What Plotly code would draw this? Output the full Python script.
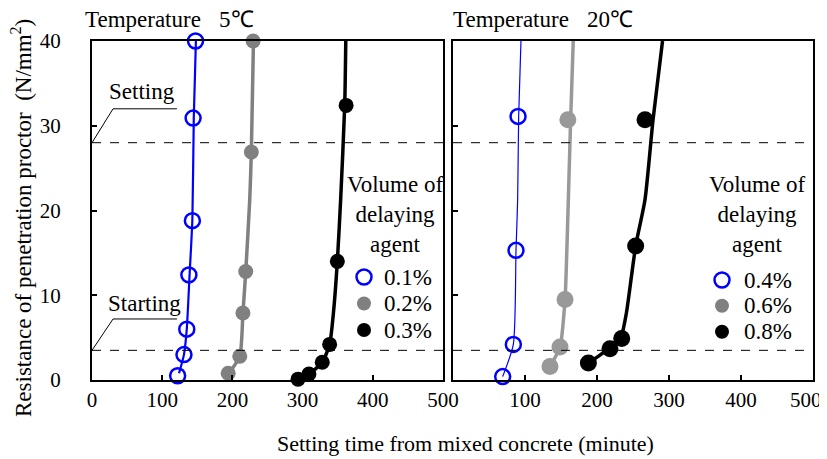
import plotly.graph_objects as go

# ---------------- data ----------------
# 5 degC panel (setting time in minutes, resistance N/mm2)
t5_a_x = [122, 131, 135, 138, 143, 144, 147.5]
t5_a_y = [0.5, 3.0, 6.0, 12.4, 18.8, 30.9, 40.0]
t5_b_x = [194, 210.5, 215, 219, 227, 229.5]
t5_b_y = [0.8, 2.8, 7.9, 12.8, 26.9, 40.0]
t5_c_x = [293.5, 309, 328, 338.5, 349.5, 362]
t5_c_y = [0.1, 0.7, 2.1, 4.2, 14.0, 32.4]

# fitted curves
f5_a_x = [124, 131, 135, 139, 143, 145, 148]
f5_a_y = [0.8, 3.0, 6.0, 12.4, 19.0, 31.0, 40.0]
f5_b_x = [195, 210.5, 215, 219, 224.7, 227, 230]
f5_b_y = [0.8, 2.8, 7.9, 12.8, 21.3, 26.9, 40.0]
f5_c_x = [293.5, 309, 328, 338.5, 344, 349.5, 354.2, 360, 361.5]
f5_c_y = [0.1, 0.7, 2.1, 4.2, 8.0, 14.0, 21.3, 32.4, 40.0]

# 20 degC panel
t20_a_x = [69, 83.8, 87.5, 90.3]
t20_a_y = [0.4, 4.2, 15.3, 31.1]
t20_b_x = [134.7, 148.6, 155.6, 159.5]
t20_b_y = [1.6, 3.9, 9.5, 30.7]
t20_c_x = [188, 218, 234.3, 253.7, 266.7]
t20_c_y = [2.0, 3.7, 4.9, 15.8, 30.7]

f20_a_x = [69, 83.8, 87.5, 89.8, 91.2, 94.4]
f20_a_y = [0.4, 4.2, 15.3, 21.3, 31.1, 40.0]
f20_b_x = [134.7, 148.6, 155.6, 158, 160.2, 163.4, 167]
f20_b_y = [1.6, 3.9, 9.5, 15.0, 21.3, 30.7, 40.0]
f20_c_x = [188, 205, 220, 234, 241, 253.7, 266.7, 277.8, 291]
f20_c_y = [2.0, 3.0, 4.0, 5.3, 8.0, 15.8, 21.3, 30.7, 40.0]

labels5 = ["0.1%", "0.2%", "0.3%"]
labels20 = ["0.4%", "0.6%", "0.8%"]
temps = ["5℃", "20℃"]
setting_level = 28
starting_level = 3.5
x_ticks = [0, 100, 200, 300, 400, 500]
y_ticks = [0, 10, 20, 30, 40]

FONT = "Liberation Serif, Times New Roman, serif"
BLUE = "#0000FF"
GRAY1 = "#808080"
GRAY2 = "#999999"
BLACK = "#000000"

fig = go.Figure()

def fit(x, y, xa, ya, color, w):
    fig.add_trace(go.Scatter(x=x, y=y, mode="lines", xaxis=xa, yaxis=ya,
                             line=dict(color=color, width=w, shape="spline", smoothing=0.6),
                             showlegend=False, hoverinfo="skip"))

def pts(x, y, xa, ya, name, open_, color, size):
    if open_:
        marker = dict(symbol="circle-open", size=size, color=color, line=dict(width=2.5, color=color))
    else:
        marker = dict(symbol="circle", size=size, color=color, line=dict(width=0))
    fig.add_trace(go.Scatter(x=x, y=y, mode="markers", xaxis=xa, yaxis=ya, name=name,
                             marker=marker, showlegend=False, cliponaxis=False))

fit(f5_a_x, f5_a_y, "x", "y", BLUE, 2.2)
fit(f5_b_x, f5_b_y, "x", "y", GRAY1, 3.5)
fit(f5_c_x, f5_c_y, "x", "y", BLACK, 3.5)
pts(t5_a_x, t5_a_y, "x", "y", labels5[0], True, BLUE, 15)
pts(t5_b_x, t5_b_y, "x", "y", labels5[1], False, GRAY1, 15)
pts(t5_c_x, t5_c_y, "x", "y", labels5[2], False, BLACK, 15)

fit(f20_a_x, f20_a_y, "x2", "y2", BLUE, 1.2)
fit(f20_b_x, f20_b_y, "x2", "y2", GRAY2, 3.5)
fit(f20_c_x, f20_c_y, "x2", "y2", BLACK, 3.5)
pts(t20_a_x, t20_a_y, "x2", "y2", labels20[0], True, BLUE, 15)
pts(t20_b_x, t20_b_y, "x2", "y2", labels20[1], False, GRAY2, 17)
pts(t20_c_x, t20_c_y, "x2", "y2", labels20[2], False, BLACK, 17)

# the page body has an 8px default margin, so the figure is offset by (8, 8)
OFF = 8
W, H = 827 - OFF, 459 - OFF
PL, PR, PT, PB = 92, 813, 41, 380          # plot area in screen pixels
PW, PH = PR - PL, PB - PT
ML, MT = PL - OFF, PT - OFF
MR, MB = W - ML - PW, H - MT - PH
def px(x): return (x - PL) / PW
def py(y): return (PB - y) / PH

TICK_FS = 21
axis_common = dict(range=[0, 500], tickvals=x_ticks, ticks="inside", ticklen=5, tickwidth=1.5,
                   tickcolor="black", showline=True, linecolor="black", linewidth=2, mirror=True,
                   showgrid=False, zeroline=False, tickfont=dict(family=FONT, size=TICK_FS, color="black"),
                   ticklabelstandoff=0, automargin=False, ticklabeloverflow="allow")
yaxis_common = dict(range=[0, 40], tickvals=y_ticks, ticks="inside", ticklen=5, tickwidth=1.5,
                    tickcolor="black", showline=True, linecolor="black", linewidth=2, mirror=True,
                    showgrid=False, zeroline=False, tickfont=dict(family=FONT, size=TICK_FS, color="black"),
                    automargin=False)

# right panel: last label (at the page edge) is drawn as an annotation so it is not clipped
fig.update_layout(
    width=W, height=H,
    margin=dict(l=ML, r=MR, t=MT, b=MB, autoexpand=False),
    paper_bgcolor="white", plot_bgcolor="white",
    font=dict(family=FONT, size=21, color="black"),
    xaxis=dict(domain=[0, 351 / PW], anchor="y", **axis_common),
    xaxis2=dict(domain=[361 / PW, 1], anchor="y2",
                **{**axis_common, "tickvals": x_ticks[1:],
                   "ticktext": [str(v) for v in x_ticks[1:-1]] + [""]}),
    yaxis=dict(domain=[0, 1], anchor="x", ticklabelstandoff=25, **yaxis_common),
    yaxis2=dict(domain=[0, 1], anchor="x2", showticklabels=False, **yaxis_common),
    showlegend=False,
)

shapes = []
for xr in ["x", "x2"]:
    yr = "y" if xr == "x" else "y2"
    for lvl in [setting_level, starting_level]:
        shapes.append(dict(type="line", xref=f"{xr} domain", yref=yr, x0=0, x1=1, y0=lvl, y1=lvl,
                           line=dict(color="black", width=1, dash="dash")))
# leader lines for the labels
shapes.append(dict(type="path", xref="x", yref="y",
                   path=f"M 0 {setting_level} L 30 32.0 L 121 32.0",
                   line=dict(color="black", width=1)))
shapes.append(dict(type="path", xref="x", yref="y",
                   path=f"M 0 {starting_level} L 30 7.2 L 121 7.2",
                   line=dict(color="black", width=1)))

# legend keys (drawn as paper-space circles) + labels
LEG_FS = 23
ann = []
legend_specs = [
    (364, 382, [277, 303.5, 330], labels5),
    (722, 742, [280, 305.7, 331.7], labels20),
]
for mx, tx, rows, labs in legend_specs:
    styles = [(True, BLUE, 15), (False, GRAY1, 14), (False, BLACK, 14)]
    for (open_, col, d), ry, lab in zip(styles, rows, labs):
        r = d / 2
        shapes.append(dict(type="circle", xref="paper", yref="paper",
                           x0=px(mx - r), x1=px(mx + r), y0=py(ry + r), y1=py(ry - r),
                           line=dict(color=col, width=2.5 if open_ else 0),
                           fillcolor="rgba(0,0,0,0)" if open_ else col))
        ann.append(dict(text=lab, x=px(tx), y=py(ry), xref="paper", yref="paper",
                        xanchor="left", yanchor="middle", showarrow=False,
                        font=dict(family=FONT, size=LEG_FS)))
fig.update_layout(shapes=shapes)

def a(text, x, y, xa="center", ya="middle", size=23, **kw):
    return dict(text=text, x=x, y=y, xref="paper", yref="paper", xanchor=xa, yanchor=ya,
                showarrow=False, font=dict(family=FONT, size=size), **kw)

ann += [
    dict(text="Setting", x=70.7, y=34.1, xref="x", yref="y", showarrow=False,
         xanchor="center", yanchor="middle", font=dict(family=FONT, size=23)),
    dict(text="Starting", x=74.4, y=9.0, xref="x", yref="y", showarrow=False,
         xanchor="center", yanchor="middle", font=dict(family=FONT, size=23)),
    a("Temperature", px(83), py(20), xa="left"),
    a(temps[0], px(217), py(20), xa="left"),
    a("Temperature", px(451), py(20), xa="left"),
    a(temps[1], px(585), py(20), xa="left"),
    a("Volume of<br>delaying<br>agent", px(395), py(214.5), align="center"),
    a("Volume of<br>delaying<br>agent", px(757), py(214.5), align="center"),
    a(str(x_ticks[-1]), px(824), py(400), xa="right", size=TICK_FS),
    a("Setting time from mixed concrete (minute)", px(465), py(443), size=22),
    a("Resistance of penetration proctor\u00a0\u00a0(N/mm<sup>2</sup>)", px(22), py(218),
      size=23, textangle=-90),
]
fig.update_layout(annotations=ann)

fig.write_html("out.html")
